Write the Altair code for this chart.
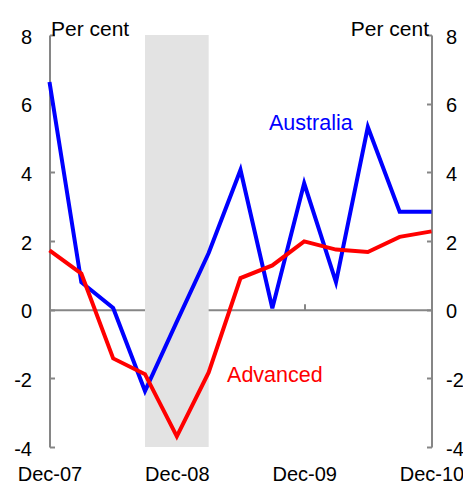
import altair as alt
import pandas as pd

quarters = ["Dec-07", "Mar-08", "Jun-08", "Sep-08", "Dec-08", "Mar-09", "Jun-09",
            "Sep-09", "Dec-09", "Mar-10", "Jun-10", "Sep-10", "Dec-10"]
australia = [6.63, 0.80, 0.05, -2.37, -0.35, 1.65, 4.07, 0.04, 3.68, 0.80, 5.32, 2.85, 2.85]
advanced = [1.73, 1.05, -1.42, -1.88, -3.69, -1.83, 0.92, 1.29, 1.99, 1.75, 1.68, 2.12, 2.28]
tick_labels = ["Dec-07", "Dec-08", "Dec-09", "Dec-10"]
y_ticks = [-4, -2, 0, 2, 4, 6, 8]
recession = ["Sep-08", "Mar-09"]
series_names = ["Australia", "Advanced"]
series_colors = ["#0000ff", "#ff0000"]
label_x = [8.21, 7.08]
label_y = [5.22, -2.11]

W, H = 382, 412
FONT = "Liberation Sans"
GRAY = "#868686"
YMIN, YMAX = -4, 8

idx = list(range(len(quarters)))
df = pd.DataFrame({"i": idx, "q": quarters, "Australia": australia, "Advanced": advanced})
long = df.melt(id_vars=["i", "q"], value_vars=series_names, var_name="series", value_name="v")
band = pd.DataFrame({"x1": [quarters.index(recession[0])], "x2": [quarters.index(recession[1])]})
labels = pd.DataFrame({"x": label_x, "y": label_y, "series": series_names})

xscale = alt.Scale(domain=[0, len(quarters) - 1], nice=False, zero=False)
yscale = alt.Scale(domain=[YMIN, YMAX], nice=False, zero=False)
cscale = alt.Scale(domain=series_names, range=series_colors)
label_expr = "{" + ",".join(f"'{quarters.index(t)}':'{t}'" for t in tick_labels) + "}[datum.value+'']"
ylabel_expr = "'' + datum.value"
xvals = [quarters.index(t) for t in tick_labels]
zero_offset = -(H * (YMAX - 0) / (YMAX - YMIN))

# Recession band; carries inward ticks of the left axis
band_layer = alt.Chart(band).mark_rect(color="#e3e3e3").encode(
    x=alt.X("x1:Q", scale=xscale, axis=None),
    x2="x2:Q",
    y=alt.Y(datum=YMIN, type="quantitative", scale=yscale,
            axis=alt.Axis(orient="right", offset=-W, values=y_ticks, domain=False, labels=False,
                          ticks=True, tickSize=5, tickWidth=2, tickColor=GRAY, grid=False, title=None)),
    y2=alt.datum(YMAX),
)

aus = alt.Chart(long[long.series == "Australia"]).mark_line(strokeWidth=4).encode(
    x=alt.X("i:Q", scale=xscale,
            axis=alt.Axis(orient="bottom", values=xvals, labelExpr=label_expr, domain=False, ticks=False,
                          tickSize=0, grid=False, labelFont=FONT, labelFontSize=20, labelColor="#000000",
                          labelPadding=17, labelFlush=False, title=None)),
    y=alt.Y("v:Q", scale=yscale,
            axis=alt.Axis(orient="left", values=y_ticks, labelExpr=ylabel_expr, domain=True,
                          domainColor=GRAY, domainWidth=2,
                          ticks=False, tickSize=0, grid=False, labelFont=FONT, labelFontSize=20,
                          labelColor="#000000", labelPadding=18, labelOffset=2, labelFlush=False,
                          title="Per cent", titleAngle=0, titleX=1, titleY=0, titleAlign="left",
                          titleBaseline="alphabetic", titleFont=FONT, titleFontSize=21,
                          titleFontWeight="normal", titleColor="#000000")),
    color=alt.Color("series:N", scale=cscale, legend=None),
)

adv = alt.Chart(long[long.series == "Advanced"]).mark_line(strokeWidth=4).encode(
    x=alt.X("i:Q", scale=xscale, axis=None),
    y=alt.Y("v:Q", scale=yscale,
            axis=alt.Axis(orient="left", offset=-W, values=y_ticks, domain=False, labels=False,
                          ticks=True, tickSize=5, tickWidth=2, tickColor=GRAY, grid=False, title=None)),
    color=alt.Color("series:N", scale=cscale, legend=None),
)

txt = alt.Chart(labels).mark_text(font=FONT, fontSize=21.5, align="center", baseline="alphabetic").encode(
    x=alt.X("x:Q", scale=xscale,
            axis=alt.Axis(orient="top", offset=zero_offset, values=xvals[1:3], domain=True, domainColor=GRAY,
                          domainWidth=2, labels=False, ticks=True, tickSize=6, tickWidth=2,
                          tickColor=GRAY, grid=False, title=None)),
    y=alt.Y("y:Q", scale=yscale,
            axis=alt.Axis(orient="right", values=y_ticks, labelExpr=ylabel_expr, domain=True,
                          domainColor=GRAY, domainWidth=2,
                          ticks=False, tickSize=0, grid=False, labelFont=FONT, labelFontSize=20,
                          labelColor="#000000", labelPadding=14, labelOffset=2, labelFlush=False,
                          title="Per cent", titleAngle=0, titleX=-3, titleY=0, titleAlign="right",
                          titleBaseline="alphabetic", titleFont=FONT, titleFontSize=21,
                          titleFontWeight="normal", titleColor="#000000")),
    text="series:N",
    color=alt.Color("series:N", scale=cscale, legend=None),
)

chart = alt.layer(band_layer, aus, adv, txt).resolve_axis(x="independent", y="independent").properties(
    width=W, height=H,
    autosize=alt.AutoSizeParams(type="none"),
    padding={"left": 41.5, "top": 27, "right": 31.5, "bottom": 35},
).configure_view(stroke=None)

chart.save("out.html", embed_options={"renderer": "svg", "actions": False})
